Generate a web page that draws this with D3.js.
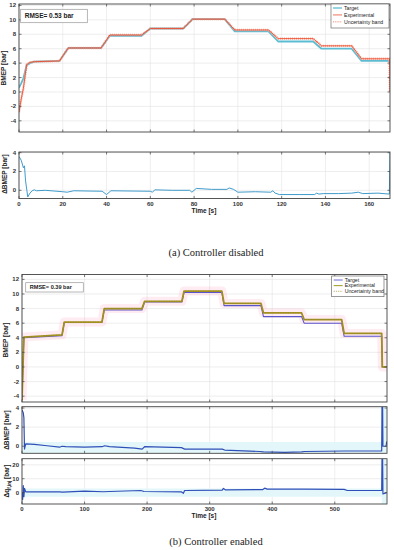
<!DOCTYPE html>
<html>
<head>
<meta charset="utf-8">
<script src="https://cdn.jsdelivr.net/npm/d3@7"></script>
<style>
  body { margin: 0; background: #fff; }
  svg { display: block; }
  .tick-lbl { font-family: "Liberation Sans", Arial, sans-serif; font-weight: bold; font-size: 6px; fill: #333; }
  .ax-lbl { font-family: "Liberation Sans", Arial, sans-serif; font-weight: bold; font-size: 6.5px; fill: #222; }
  .caption { font-family: "Liberation Serif", "DejaVu Serif", serif; font-size: 10.5px; fill: #222; }
  .leg { font-family: "Liberation Sans", Arial, sans-serif; font-size: 5.2px; fill: #222; }
</style>
</head>
<body>
<div id="chart"></div>
<script>
// ---- data (a) controller disabled ----
const timeA = [0, 1, 2, 3.5, 5, 7, 18.5, 22.5, 37.5, 41.5, 56, 60, 75, 79.3, 94, 98.6, 114, 118.4, 134.4, 138.2, 152, 156.5, 169.3, 169.5];
const targetA = [0.6, 1.2, 1.9, 3.7, 4.0, 4.2, 4.3, 6.1, 6.1, 7.8, 7.8, 8.8, 8.8, 10.1, 10.1, 8.4, 8.4, 7.0, 7.0, 6.0, 6.0, 4.3, 4.3, 4.3];
const expA = [-2.8, -1.0, 0.5, 3.8, 4.1, 4.2, 4.3, 6.1, 6.1, 7.9, 7.9, 8.8, 8.8, 10.1, 10.1, 8.6, 8.6, 7.4, 7.4, 6.4, 6.4, 4.6, 4.6, 0];
const dTimeA = [0, 1, 2, 2.5, 3, 4, 5, 6, 7, 8, 12, 20, 22, 25, 38, 40, 42, 60, 61, 62, 70, 78, 79, 81, 88, 95, 96, 98, 100, 108, 115, 116, 117, 119, 128, 135, 136, 137, 139, 146, 152, 155, 157, 164, 169.2, 169.5];
const deltaA = [3.6, 3.2, 2.4, 2.6, 1.0, -0.7, -0.3, -0.05, 0.05, -0.05, 0.0, -0.15, -0.2, -0.05, -0.1, -0.45, -0.05, -0.1, -0.2, 0.05, 0.0, 0.0, -0.2, 0.2, 0.1, 0.1, 0.25, 0.1, -0.2, -0.15, -0.2, -0.05, -0.3, -0.45, -0.45, -0.45, -0.3, -0.4, -0.35, -0.35, -0.3, -0.2, -0.35, -0.3, -0.4, 4.0];

// ---- data (b) controller enabled ----
const timeB = [0, 1.5, 3, 64, 67.6, 127.8, 131.5, 191.7, 196, 255.6, 259, 319.5, 323, 382, 386, 447, 451, 511, 515, 575, 576, 583];
const targetB = [-4.5, 0, 4.0, 4.3, 6.1, 6.1, 7.8, 7.8, 8.9, 8.9, 10.2, 10.2, 8.4, 8.4, 6.9, 6.9, 6.0, 6.0, 4.2, 4.2, 0, 0];
const expB = [-4.5, 0, 4.1, 4.4, 6.15, 6.15, 8.0, 8.0, 9.0, 9.0, 10.4, 10.4, 8.7, 8.7, 7.4, 7.4, 6.5, 6.5, 4.6, 4.6, 0, 0];
const dTimeB = [0, 2, 3, 4, 5, 6, 20, 40, 60, 64, 70, 100, 128, 132, 140, 180, 192, 196, 255, 260, 300, 320, 324, 380, 386, 420, 447, 452, 515, 575, 575.5, 576.5, 577, 582, 583];
const deltaB = [3.8, 3.5, 3.0, -0.3, 0.0, 0.25, 0.2, 0.05, -0.1, 0.0, -0.05, -0.1, -0.05, 0.05, -0.05, -0.2, -0.3, -0.05, -0.15, -0.3, -0.3, -0.3, -0.4, -0.55, -0.6, -0.65, -0.6, -0.55, -0.5, -0.5, 4.1, 4.1, 0.0, 0.0, 0.5];
const qTime = [0, 1, 2, 3, 4, 6, 60, 65, 100, 130, 140, 190, 195, 255, 258, 260, 320, 322, 325, 385, 388, 392, 450, 515, 520, 575, 575.5, 576.5, 577, 583];
const qDelta = [0, -5, 5, -3, 3, 0.5, 0.5, 0.3, 1.0, 0.6, 0.8, 1.5, 0.8, 0.5, -0.5, 1.5, 1.8, 3.0, 2.0, 2.2, 3.2, 2.5, 2.5, 2.3, 1.5, 1.5, 24, 24, -1, 0];
const bandTimeB = [0, 575, 575, 583];
const bandMidLo = [-0.75, -0.75, -0.74, -0.74];
const bandMidHi = [0.45, 0.45, 4.14, 4.14];
const bandQLo = [-3, -3, -8.2, -8.2];
const bandQHi = [3, 3, 24.4, 24.4];

const width = 394, height = 550;
const svg = d3.select('#chart').append('svg').attr('width', width).attr('height', height);

const zip = (xs, ys) => xs.map((x, i) => [x, ys[i]]);

// draws a MATLAB-like box with grid and inward ticks
function panel(box, xDomain, yDomain, xTicks, yTicks, showXLabels) {
    const x = d3.scaleLinear().domain(xDomain).range([box.left, box.right]);
    const y = d3.scaleLinear().domain(yDomain).range([box.bottom, box.top]);
    const g = svg.append('g');
    g.append('rect').attr('x', box.left).attr('y', box.top)
        .attr('width', box.right - box.left).attr('height', box.bottom - box.top)
        .attr('fill', '#fff');
    const grid = g.append('g').attr('stroke', '#e2e2e2').attr('stroke-width', 0.6);
    xTicks.forEach(t => grid.append('line').attr('x1', x(t)).attr('x2', x(t)).attr('y1', box.top).attr('y2', box.bottom));
    yTicks.forEach(t => grid.append('line').attr('y1', y(t)).attr('y2', y(t)).attr('x1', box.left).attr('x2', box.right));
    const marks = g.append('g');
    const clip = 'clip' + Math.round(box.top);
    svg.append('clipPath').attr('id', clip).append('rect')
        .attr('x', box.left).attr('y', box.top)
        .attr('width', box.right - box.left).attr('height', box.bottom - box.top);
    marks.attr('clip-path', `url(#${clip})`);
    const frame = g.append('g');
    frame.append('rect').attr('x', box.left).attr('y', box.top)
        .attr('width', box.right - box.left).attr('height', box.bottom - box.top)
        .attr('fill', 'none').attr('stroke', '#444').attr('stroke-width', 0.9);
    const tk = frame.append('g').attr('stroke', '#444').attr('stroke-width', 0.7);
    xTicks.forEach(t => {
        tk.append('line').attr('x1', x(t)).attr('x2', x(t)).attr('y1', box.bottom).attr('y2', box.bottom - 2.5);
        tk.append('line').attr('x1', x(t)).attr('x2', x(t)).attr('y1', box.top).attr('y2', box.top + 2.5);
    });
    yTicks.forEach(t => {
        tk.append('line').attr('y1', y(t)).attr('y2', y(t)).attr('x1', box.left).attr('x2', box.left + 2.5);
        tk.append('line').attr('y1', y(t)).attr('y2', y(t)).attr('x1', box.right).attr('x2', box.right - 2.5);
    });
    yTicks.forEach(t => frame.append('text').attr('class', 'tick-lbl')
        .attr('x', box.left - 3).attr('y', y(t) + 2).attr('text-anchor', 'end').text(t));
    if (showXLabels) {
        xTicks.forEach(t => frame.append('text').attr('class', 'tick-lbl')
            .attr('x', x(t)).attr('y', box.bottom + 7).attr('text-anchor', 'middle').text(t));
    }
    return { x, y, marks, frame };
}

function line(p, xs, ys, color, w, dash) {
    const gen = d3.line().x(d => p.x(d[0])).y(d => p.y(d[1]));
    const path = p.marks.append('path').datum(zip(xs, ys)).attr('d', gen)
        .attr('fill', 'none').attr('stroke', color).attr('stroke-width', w)
        .attr('stroke-linejoin', 'round');
    if (dash) path.attr('stroke-dasharray', dash);
    return path;
}

function band(p, xs, lo, hi, color) {
    const gen = d3.area().x(d => p.x(d[0])).y0(d => p.y(d[1])).y1(d => p.y(d[2]));
    p.marks.append('path').datum(xs.map((x, i) => [x, lo[i], hi[i]])).attr('d', gen)
        .attr('fill', color).attr('stroke', 'none');
}

function yLabel(text, cx, cy) {
    svg.append('text').attr('class', 'ax-lbl')
        .attr('transform', `translate(${cx},${cy}) rotate(-90)`)
        .attr('text-anchor', 'middle').text(text);
}

function rmseBox(x0, y0, w, h, text, size) {
    svg.append('rect').attr('x', x0).attr('y', y0).attr('width', w).attr('height', h)
        .attr('fill', '#fff').attr('stroke', '#999').attr('stroke-width', 0.7);
    svg.append('text').attr('class', 'ax-lbl').style('font-size', size + 'px')
        .attr('x', x0 + 4).attr('y', y0 + h / 2 + size * 0.36).text(text);
}

function legend(x0, y0, w, h, items) {
    svg.append('rect').attr('x', x0).attr('y', y0).attr('width', w).attr('height', h)
        .attr('fill', '#fff').attr('stroke', '#555').attr('stroke-width', 0.6);
    items.forEach((it, i) => {
        const yy = y0 + 4 + i * (h - 6) / 2.6;
        svg.append('line').attr('x1', x0 + 2).attr('x2', x0 + 11).attr('y1', yy).attr('y2', yy)
            .attr('stroke', it.color).attr('stroke-width', it.w)
            .attr('stroke-dasharray', it.dash || null);
        svg.append('text').attr('class', 'leg').attr('x', x0 + 13).attr('y', yy + 1.8).text(it.label);
    });
}

// ---------- (a) ----------
const ticksA = [0, 20, 40, 60, 80, 100, 120, 140, 160];
const pA1 = panel({ left: 19, right: 390, top: 4, bottom: 132 }, [0, 169.5], [-5.55, 12.2], ticksA, [-4, -2, 0, 2, 4, 6, 8, 10, 12], false);
line(pA1, timeA, targetA, '#5cbcd2', 1.8);
line(pA1, timeA, expA, '#f6a08a', 2.4, '1,1');
line(pA1, timeA, expA, '#ec4f33', 0.9);
yLabel('BMEP [bar]', 6, 68);
rmseBox(20.7, 9.3, 66.6, 13.4, 'RMSE= 0.53 bar', 6.5);
legend(331, 4, 58, 24, [
    { label: 'Target', color: '#52b7cf', w: 1.2 },
    { label: 'Experimental', color: '#ec4f33', w: 0.8 },
    { label: 'Uncertainty band', color: '#f08a78', w: 1, dash: '1.2,1' }
]);

const pA2 = panel({ left: 19, right: 390, top: 152, bottom: 198.5 }, [0, 169.5], [-0.87, 4.07], ticksA, [0, 2, 4], true);
line(pA2, dTimeA, deltaA, '#2a8fc4', 0.9);
yLabel('\u0394BMEP [bar]', 7, 174);
svg.append('text').attr('class', 'ax-lbl').attr('x', 204).attr('y', 213).attr('text-anchor', 'middle').text('Time [s]');
svg.append('text').attr('class', 'caption').attr('x', 216).attr('y', 256).attr('text-anchor', 'middle').text('(a) Controller disabled');

// ---------- (b) ----------
const ticksB = [0, 100, 200, 300, 400, 500];
const pB1 = panel({ left: 22, right: 387, top: 274.5, bottom: 402 }, [0, 583.5], [-4.8, 12.67], ticksB, [-4, -2, 0, 2, 4, 6, 8, 10, 12], false);
line(pB1, timeB, expB, 'rgba(255,150,190,0.18)', 9);
line(pB1, timeB, targetB, '#5a55cc', 1.1);
line(pB1, timeB, expB, '#a8901e', 1.8);
line(pB1, timeB, expB, '#6b8a3a', 0.5, '1,1.5');
yLabel('BMEP [bar]', 8, 340);
rmseBox(25.7, 282.7, 57.6, 9.3, 'RMSE= 0.39 bar', 5.6);
legend(331.7, 276, 52.3, 20.7, [
    { label: 'Target', color: '#6d69d6', w: 1 },
    { label: 'Experimental', color: '#9a9a1e', w: 1 },
    { label: 'Uncertainty band', color: '#b0a050', w: 0.8, dash: '1.2,1' }
]);

const pB2 = panel({ left: 22, right: 387, top: 406.7, bottom: 453.3 }, [0, 583.5], [-0.74, 4.14], ticksB, [0, 2, 4], false);
band(pB2, bandTimeB, bandMidLo, bandMidHi, '#e3f7fa');
line(pB2, dTimeB, deltaB, '#2f4fb8', 1.2);
yLabel('\u0394BMEP [bar]', 9, 430);

const pB3 = panel({ left: 22, right: 387, top: 458.7, bottom: 504 }, [0, 583.5], [-8.2, 24.4], ticksB, [0, 10, 20], true);
band(pB3, bandTimeB, bandQLo, bandQHi, '#e3f7fa');
line(pB3, qTime, qDelta, '#2f4fb8', 1.2);
const ql = svg.append('text').attr('class', 'ax-lbl')
    .attr('transform', 'translate(9,481) rotate(-90)').attr('text-anchor', 'middle');
ql.append('tspan').text('\u0394q');
ql.append('tspan').attr('dy', 1.5).style('font-size', '4.5px').text('f,inj');
ql.append('tspan').attr('dy', -1.5).text(' [bar]');
svg.append('text').attr('class', 'ax-lbl').attr('x', 204).attr('y', 518).attr('text-anchor', 'middle').text('Time [s]');
svg.append('text').attr('class', 'caption').attr('x', 216).attr('y', 545).attr('text-anchor', 'middle').text('(b) Controller enabled');
</script>
</body>
</html>
